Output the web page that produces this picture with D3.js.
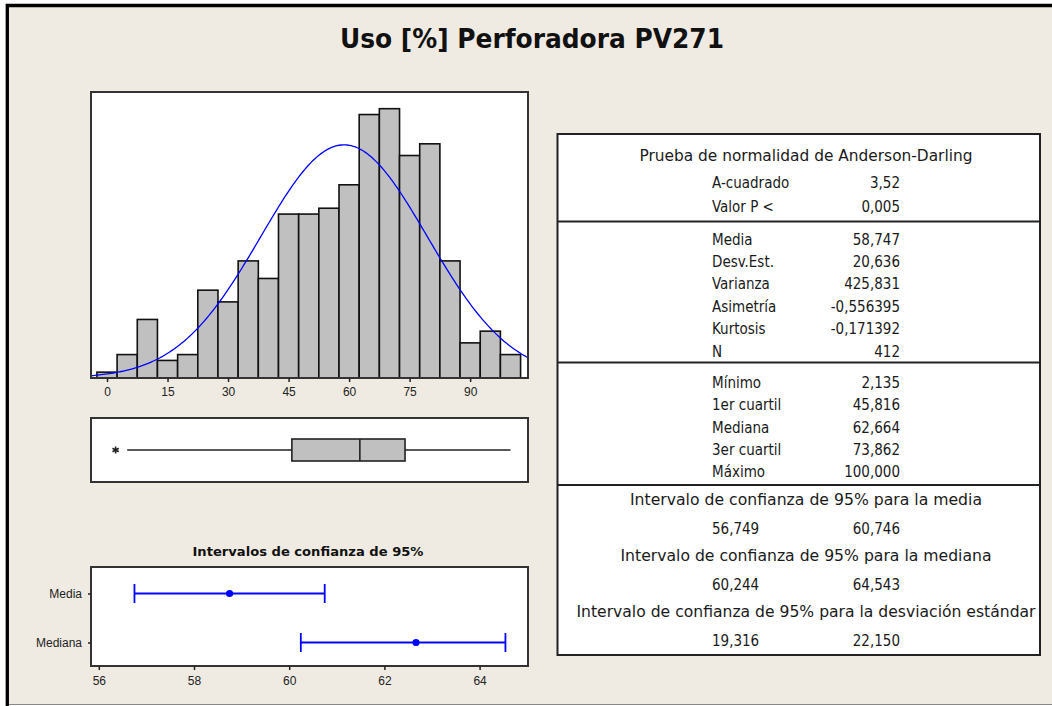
<!DOCTYPE html>
<html>
<head>
<meta charset="utf-8">
<script src="https://cdn.jsdelivr.net/npm/d3@7"></script>
<style>
  body { margin: 0; background: #fff; }
  svg { display: block; font-family: "DejaVu Sans Condensed", "DejaVu Sans", sans-serif; font-stretch: condensed; }
  .axis text { font-size: 12px; fill: #222; font-family: inherit; }
  .axis line { stroke: #222; stroke-width: 1.5; }
  .axis .domain { display: none; }
  .tbl text { font-size: 15px; fill: #1a1a1a; }
  .frame { fill: #fff; stroke: #333; stroke-width: 2; }
</style>
</head>
<body>
<script>
const title = "Uso [%] Perforadora PV271";

// histogram (bin midpoints, width 5)
const binMids = [0, 5, 10, 15, 20, 25, 30, 35, 40, 45, 50, 55, 60, 65, 70, 75, 80, 85, 90, 95, 100];
const counts = [1, 4, 10, 3, 4, 15, 13, 20, 17, 28, 28, 29, 33, 45, 46, 38, 40, 20, 6, 8, 4];
const binWidth = 5;
const histTicks = [0, 15, 30, 45, 60, 75, 90];

// summary table
const adTitle = "Prueba de normalidad de Anderson-Darling";
const adRows = [["A-cuadrado", 3.52, 2], ["Valor P <", 0.005, 3]];
const descRows = [["Media", 58.747, 3], ["Desv.Est.", 20.636, 3], ["Varianza", 425.831, 3],
                  ["Asimetría", -0.556395, 6], ["Kurtosis", -0.171392, 6], ["N", 412, 0]];
const quartRows = [["Mínimo", 2.135, 3], ["1er cuartil", 45.816, 3], ["Mediana", 62.664, 3],
                   ["3er cuartil", 73.862, 3], ["Máximo", 100, 3]];
const ciRows = [["Intervalo de confianza de 95% para la media", 56.749, 60.746],
                ["Intervalo de confianza de 95% para la mediana", 60.244, 64.543],
                ["Intervalo de confianza de 95% para la desviación estándar", 19.316, 22.150]];

// boxplot: lower whisker end, outlier = minimum
const lowerWhisker = 5.0;
const outliers = [2.135];

// confidence interval plot
const ciTitle = "Intervalos de confianza de 95%";
const ciLabels = ["Media", "Mediana"];
const ciTicks = [56, 58, 60, 62, 64];

const W = 1052, H = 706;
const stat = (rows, name) => rows.find(r => r[0] === name)[1];
const locale = d3.formatLocale({ decimal: ",", thousands: ".", grouping: [3], currency: ["", ""], minus: "-" });
const fmt = (v, d) => locale.format(`.${d}f`)(v);

const svg = d3.select("body").append("svg")
    .attr("width", W)
    .attr("height", H);

// background + outer border
svg.append("rect").attr("x", 7).attr("y", 5).attr("width", W).attr("height", 699).attr("fill", "#efebe2");
svg.append("path").attr("d", `M7.3,${H} V5.5 H${W}`).attr("fill", "none").attr("stroke", "#000").attr("stroke-width", 3.3);
svg.append("line").attr("x1", 9).attr("x2", W).attr("y1", 704.5).attr("y2", 704.5).attr("stroke", "#888");

svg.append("text")
    .attr("x", 532).attr("y", 48.3)
    .attr("text-anchor", "middle")
    .attr("font-size", 27).attr("font-weight", "bold")
    .attr("textLength", 384).attr("lengthAdjust", "spacingAndGlyphs")
    .attr("fill", "#111")
    .text(title);

// ---------- histogram ----------
const hist = { x0: 91, y0: 92, x1: 528, y1: 378 };
const xHist = d3.scaleLinear().domain([-3.97, 104.34]).range([hist.x0, hist.x1]);
const yHist = d3.scaleLinear().domain([0, 48.85]).range([hist.y1, hist.y0]);

svg.append("rect").attr("class", "frame")
    .attr("x", hist.x0).attr("y", hist.y0)
    .attr("width", hist.x1 - hist.x0).attr("height", hist.y1 - hist.y0);

svg.append("defs").append("clipPath").attr("id", "hist-clip")
    .append("rect")
    .attr("x", hist.x0).attr("y", hist.y0)
    .attr("width", hist.x1 - hist.x0).attr("height", hist.y1 - hist.y0);

svg.append("g").selectAll("rect")
    .data(binMids)
    .join("rect")
    .attr("x", d => xHist(d - binWidth / 2))
    .attr("width", d => xHist(d + binWidth / 2) - xHist(d - binWidth / 2))
    .attr("y", (d, i) => yHist(counts[i]))
    .attr("height", (d, i) => yHist(0) - yHist(counts[i]))
    .attr("fill", "#c0c0c0")
    .attr("stroke", "#111")
    .attr("stroke-width", 1.6);

// fitted normal curve from Media / Desv.Est. / N
const mu = stat(descRows, "Media"), sigma = stat(descRows, "Desv.Est."), n = stat(descRows, "N");
const normal = d3.line()
    .x(d => xHist(d))
    .y(d => yHist(n * binWidth * Math.exp(-0.5 * ((d - mu) / sigma) ** 2) / (sigma * Math.sqrt(2 * Math.PI))));

svg.append("path")
    .datum(d3.range(xHist.domain()[0], xHist.domain()[1] + 0.5, 0.5))
    .attr("d", normal)
    .attr("fill", "none")
    .attr("stroke", "#0000ff")
    .attr("stroke-width", 1.3)
    .attr("clip-path", "url(#hist-clip)");

svg.append("rect").attr("x", hist.x0).attr("y", hist.y0)
    .attr("width", hist.x1 - hist.x0).attr("height", hist.y1 - hist.y0)
    .attr("fill", "none").attr("stroke", "#333").attr("stroke-width", 2);

svg.append("g").attr("class", "axis")
    .attr("transform", `translate(0,${hist.y1})`)
    .call(d3.axisBottom(xHist).tickValues(histTicks).tickSize(4).tickPadding(5.5));

// ---------- boxplot ----------
const box = { x0: 91, y0: 418, x1: 528, y1: 482 };
const boxY = 450, boxH = 22;
const q1 = stat(quartRows, "1er cuartil"), med = stat(quartRows, "Mediana"),
      q3 = stat(quartRows, "3er cuartil"), maxV = stat(quartRows, "Máximo");

svg.append("rect").attr("class", "frame")
    .attr("x", box.x0).attr("y", box.y0)
    .attr("width", box.x1 - box.x0).attr("height", box.y1 - box.y0);

const bp = svg.append("g").attr("stroke", "#222").attr("stroke-width", 1.6);
bp.append("line").attr("x1", xHist(lowerWhisker)).attr("x2", xHist(q1)).attr("y1", boxY).attr("y2", boxY);
bp.append("line").attr("x1", xHist(q3)).attr("x2", xHist(maxV)).attr("y1", boxY).attr("y2", boxY);
bp.append("rect")
    .attr("x", xHist(q1)).attr("width", xHist(q3) - xHist(q1))
    .attr("y", boxY - boxH / 2).attr("height", boxH)
    .attr("fill", "#c0c0c0");
bp.append("line").attr("x1", xHist(med)).attr("x2", xHist(med)).attr("y1", boxY - boxH / 2).attr("y2", boxY + boxH / 2);

bp.selectAll("path.out")
    .data(outliers)
    .join("path")
    .attr("class", "out")
    .attr("transform", d => `translate(${xHist(d)},${boxY})`)
    .attr("d", d3.symbol(d3.symbolAsterisk, 36))
    .attr("fill", "none");

// ---------- confidence intervals ----------
const ci = { x0: 91, y0: 567, x1: 528, y1: 666 };
const xCi = d3.scaleLinear().domain([55.836, 65.017]).range([ci.x0, ci.x1]);
const yCi = d3.scalePoint().domain(ciLabels).range([569, 667]).padding(0.5);
const ciData = [
    { label: "Media", c: stat(descRows, "Media"), lo: ciRows[0][1], hi: ciRows[0][2] },
    { label: "Mediana", c: stat(quartRows, "Mediana"), lo: ciRows[1][1], hi: ciRows[1][2] }
];

svg.append("text")
    .attr("x", 308).attr("y", 551.7).attr("dy", "0.35em")
    .attr("text-anchor", "middle")
    .attr("font-size", 12.5).attr("font-weight", "bold")
    .attr("textLength", 231).attr("lengthAdjust", "spacingAndGlyphs")
    .attr("fill", "#111")
    .text(ciTitle);

svg.append("rect").attr("class", "frame")
    .attr("x", ci.x0).attr("y", ci.y0)
    .attr("width", ci.x1 - ci.x0).attr("height", ci.y1 - ci.y0);

const bars = svg.append("g").selectAll("g")
    .data(ciData)
    .join("g")
    .attr("stroke", "#0000ff")
    .attr("stroke-width", 1.8);
bars.append("line").attr("x1", d => xCi(d.lo)).attr("x2", d => xCi(d.hi))
    .attr("y1", d => yCi(d.label)).attr("y2", d => yCi(d.label));
bars.append("line").attr("x1", d => xCi(d.lo)).attr("x2", d => xCi(d.lo))
    .attr("y1", d => yCi(d.label) - 9.5).attr("y2", d => yCi(d.label) + 9.5);
bars.append("line").attr("x1", d => xCi(d.hi)).attr("x2", d => xCi(d.hi))
    .attr("y1", d => yCi(d.label) - 9.5).attr("y2", d => yCi(d.label) + 9.5);
bars.append("circle").attr("cx", d => xCi(d.c)).attr("cy", d => yCi(d.label))
    .attr("r", 3.6).attr("fill", "#0000ff").attr("stroke", "none");

svg.append("g").attr("class", "axis")
    .attr("transform", `translate(0,${ci.y1})`)
    .call(d3.axisBottom(xCi).tickValues(ciTicks).tickSize(4).tickPadding(6));
svg.append("g").attr("class", "axis")
    .attr("transform", `translate(${ci.x0},0)`)
    .call(d3.axisLeft(yCi).tickSize(3).tickPadding(6))
    .selectAll("text").attr("font-size", 12);

// ---------- summary table ----------
const tbl = { x0: 557.5, y0: 134, x1: 1040, y1: 655 };
const labelX = 712, valueX = 900, centerX = 806, rowStep = 22.4;
const seps = [221.4, 362.6, 484.9];
const t = svg.append("g").attr("class", "tbl");

t.append("rect")
    .attr("x", tbl.x0).attr("y", tbl.y0)
    .attr("width", tbl.x1 - tbl.x0).attr("height", tbl.y1 - tbl.y0)
    .attr("fill", "#fff").attr("stroke", "#222").attr("stroke-width", 2);
t.selectAll("line.sep")
    .data(seps)
    .join("line")
    .attr("class", "sep")
    .attr("x1", tbl.x0).attr("x2", tbl.x1)
    .attr("y1", d => d).attr("y2", d => d)
    .attr("stroke", "#222").attr("stroke-width", 2);

const centered = (txt, y, w) => t.append("text")
    .attr("x", centerX).attr("y", y).attr("dy", "0.35em")
    .attr("text-anchor", "middle")
    .attr("textLength", w).attr("lengthAdjust", "spacingAndGlyphs")
    .text(txt);

const statRows = (rows, y0, step) => {
    rows.forEach((r, i) => {
        const y = y0 + i * step;
        t.append("text").attr("x", labelX).attr("y", y).attr("dy", "0.35em").text(r[0]);
        t.append("text").attr("x", valueX).attr("y", y).attr("dy", "0.35em")
            .attr("text-anchor", "end").text(fmt(r[1], r[2]));
    });
};

centered(adTitle, 156, 333);
statRows(adRows, 183, 23.5);
statRows(descRows, 239.3, rowStep);
statRows(quartRows, 382.6, rowStep);

const ciWidths = [352, 371, 459];
ciRows.forEach((r, i) => {
    const y = 499.7 + i * 56;
    centered(r[0], y, ciWidths[i]);
    t.append("text").attr("x", labelX).attr("y", y + 28.9).attr("dy", "0.35em").text(fmt(r[1], 3));
    t.append("text").attr("x", valueX).attr("y", y + 28.9).attr("dy", "0.35em")
        .attr("text-anchor", "end").text(fmt(r[2], 3));
});
</script>
</body>
</html>
